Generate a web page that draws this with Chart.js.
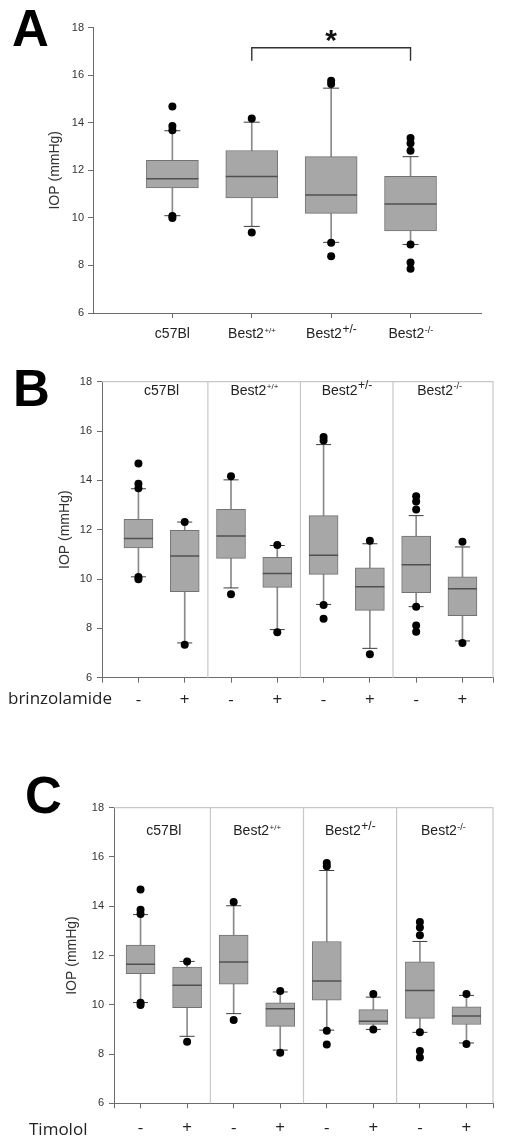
<!DOCTYPE html>
<html>
<head>
<meta charset="utf-8">
<script src="https://cdn.jsdelivr.net/npm/chart.js@4"></script>
<style>
  html, body { margin: 0; padding: 0; background: #fff; }
  body { width: 509px; height: 1140px; position: relative; overflow: hidden; }
  canvas { position: absolute; left: 0; }
  .panel { position: absolute; font: bold 51px "Liberation Sans", Arial, sans-serif; line-height: 1; color: #000; }
  .treat { position: absolute; font: 17px "Open Sans", sans-serif; line-height: 20px; color: #222; }
</style>
</head>
<body>
<canvas id="chartA" width="509" height="345" style="top:0"></canvas>
<canvas id="chartB" width="509" height="380" style="top:340px"></canvas>
<canvas id="chartC" width="509" height="380" style="top:760px"></canvas>
<div class="panel" style="left:12px;top:3px">A</div>
<div class="panel" style="left:13px;top:363px">B</div>
<div class="panel" style="left:25px;top:770px">C</div>
<div class="treat" style="left:8px;top:688px">brinzolamide</div>
<div class="treat" style="left:29px;top:1119px">Timolol</div>
<script>
// groups and labels
const groups = ["c57Bl", "Best2", "Best2", "Best2"];
const groupSup = ["", "+/+", "+/-", "-/-"];
const treatSigns = ["-", "+"];
const yTitle = "IOP (mmHg)";

// untreated eyes (same in all three panels)
const baseLow = [10.09, 9.64, 8.97, 8.88];
const baseQ1 = [11.26, 10.84, 10.19, 9.45];
const baseMedian = [11.64, 11.74, 10.96, 10.58];
const baseQ3 = [12.42, 12.83, 12.57, 11.74];
const baseHigh = [13.66, 14.02, 15.45, 12.57];
const baseOutliers = [[14.68, 13.86, 13.68, 10.08, 9.99], [14.17, 9.38], [15.76, 15.62, 8.95, 8.39], [13.36, 13.14, 12.82, 8.88, 8.12, 7.86]];

// brinzolamide
const brinzLow = [7.41, 7.95, 7.19, 7.49];
const brinzQ1 = [9.49, 9.66, 8.73, 8.51];
const brinzMedian = [10.93, 10.22, 9.69, 9.61];
const brinzQ3 = [11.97, 10.88, 10.45, 10.09];
const brinzHigh = [12.31, 11.36, 11.43, 11.3];
const brinzOutliers = [[12.31, 7.34], [11.38, 7.84], [11.55, 6.95], [11.51, 7.41]];

// timolol
const timoLow = [8.72, 8.16, 9.0, 8.45];
const timoQ1 = [9.88, 9.12, 9.2, 9.2];
const timoMedian = [10.79, 9.84, 9.33, 9.54];
const timoQ3 = [11.53, 10.08, 9.8, 9.92];
const timoHigh = [11.76, 10.52, 10.31, 10.38];
const timoOutliers = [[11.76, 8.5], [10.56, 8.05], [10.44, 9.0], [10.44, 8.41]];

// significance: Best2+/+ vs Best2-/-
const sigPair = [1, 3];
const sigLabel = "*";

const AXIS = "#6c6c6c";
const FONT = "'Liberation Sans', Arial, sans-serif";
Chart.defaults.font.family = FONT;

function boxDatasets(xs, s, st) {
  const pts = (ys) => xs.map((x, i) => ({ x, y: ys[i] }));
  return [
    {
      type: "scatter", order: 1,
      data: s.outliers.flatMap((o, i) => o.map((y) => ({ x: xs[i], y }))),
      pointRadius: st.dot, backgroundColor: "#000", borderColor: "#000", borderWidth: 0,
    },
    {
      type: "scatter", order: 2,
      data: pts(s.low).concat(pts(s.high)),
      pointStyle: "line", pointRadius: st.cap, borderColor: "#3c3c3c", borderWidth: 1,
    },
    {
      type: "scatter", order: 3,
      data: pts(s.median),
      pointStyle: "line", pointRadius: st.box / 2, borderColor: "#505050", borderWidth: 1.5,
    },
    {
      type: "bar", order: 4, grouped: false, barThickness: st.box,
      data: xs.map((x, i) => ({ x, y: [s.q1[i], s.q3[i]] })),
      backgroundColor: "#a7a7a7", borderColor: "#727272", borderWidth: 1, borderSkipped: false,
    },
    {
      type: "bar", order: 5, grouped: false, barThickness: 1,
      data: xs.map((x, i) => ({ x, y: [s.low[i], s.high[i]] })),
      backgroundColor: "#8a8a8a", borderWidth: 0,
    },
  ];
}

function makeScales(o) {
  return {
    x: {
      type: "linear", min: o.xMin, max: o.xMax, offset: false,
      afterBuildTicks: (sc) => { sc.ticks = o.xTicks.map((v) => ({ value: v })); },
      afterFit: (sc) => { sc.height = o.xHeight; },
      grid: { offset: false, drawOnChartArea: false, drawTicks: true, tickLength: 5, color: AXIS },
      border: { color: AXIS, width: 1 },
      ticks: {
        display: !!o.xLabel, autoSkip: false, maxRotation: 0, padding: o.xPad || 0,
        font: { family: "'Open Sans', sans-serif", size: 17 }, color: "#222",
        callback: (v) => (o.xLabel ? o.xLabel(v) : ""),
      },
    },
    y: {
      min: 6, max: 18,
      afterFit: (sc) => { sc.width = o.yWidth; },
      grid: { drawOnChartArea: false, drawTicks: true, tickLength: 5, color: AXIS },
      border: { color: AXIS, width: 1 },
      ticks: { stepSize: 2, font: { size: 11 }, color: "#333", padding: o.yPad },
      title: { display: true, text: yTitle, font: { size: 14 }, color: "#333", padding: 0 },
    },
  };
}

function groupLabelPlugin(xs, y, supSize) {
  return {
    id: "groupLabels",
    afterDraw(chart) {
      const { ctx, scales: { x } } = chart;
      ctx.save();
      ctx.fillStyle = "#222";
      ctx.textBaseline = "alphabetic";
      ctx.textAlign = "left";
      groups.forEach((g, i) => {
        ctx.font = "14px " + FONT;
        const w1 = ctx.measureText(g).width;
        ctx.font = supSize[i] + "px " + FONT;
        const w2 = groupSup[i] ? ctx.measureText(groupSup[i]).width : 0;
        const left = x.getPixelForValue(xs[i]) - (w1 + w2) / 2;
        ctx.font = "14px " + FONT;
        ctx.fillText(g, left, y);
        if (groupSup[i]) {
          ctx.font = supSize[i] + "px " + FONT;
          ctx.fillText(groupSup[i], left + w1 + 0.5, y - 5.5);
        }
      });
      ctx.restore();
    },
  };
}

function framePlugin(seps) {
  return {
    id: "frame",
    beforeDatasetsDraw(chart) {
      const { ctx, chartArea: a, scales: { x } } = chart;
      ctx.save();
      ctx.strokeStyle = "#c8c8c8";
      ctx.lineWidth = 1.2;
      ctx.beginPath();
      ctx.moveTo(a.left, a.top);
      ctx.lineTo(a.right, a.top);
      ctx.lineTo(a.right, a.bottom);
      seps.forEach((v) => {
        const px = x.getPixelForValue(v);
        ctx.moveTo(px, a.top);
        ctx.lineTo(px, a.bottom);
      });
      ctx.stroke();
      ctx.restore();
    },
  };
}

const sigPlugin = {
  id: "sig",
  afterDraw(chart) {
    const { ctx, scales: { x, y } } = chart;
    const x1 = x.getPixelForValue(sigPair[0] + 1);
    const x2 = x.getPixelForValue(sigPair[1] + 1);
    const yb = y.getPixelForValue(17.15);
    const yl = y.getPixelForValue(16.6);
    ctx.save();
    ctx.strokeStyle = "#333";
    ctx.lineWidth = 1.4;
    ctx.beginPath();
    ctx.moveTo(x1, yl);
    ctx.lineTo(x1, yb);
    ctx.lineTo(x2, yb);
    ctx.lineTo(x2, yl);
    ctx.stroke();
    ctx.fillStyle = "#111";
    ctx.font = "bold 30px " + FONT;
    ctx.textAlign = "center";
    ctx.textBaseline = "alphabetic";
    ctx.fillText(sigLabel, (x1 + x2) / 2, yb + 2);
    ctx.restore();
  },
};

const baseStats = { low: baseLow, q1: baseQ1, median: baseMedian, q3: baseQ3, high: baseHigh, outliers: baseOutliers };
const brinzStats = { low: brinzLow, q1: brinzQ1, median: brinzMedian, q3: brinzQ3, high: brinzHigh, outliers: brinzOutliers };
const timoStats = { low: timoLow, q1: timoQ1, median: timoMedian, q3: timoQ3, high: timoHigh, outliers: timoOutliers };

const common = { animation: false, responsive: false, events: [], plugins: { legend: { display: false }, tooltip: { enabled: false } } };

// Panel A
const xsA = groups.map((g, i) => i + 1);
new Chart(document.getElementById("chartA"), {
  type: "bar",
  data: { datasets: boxDatasets(xsA, baseStats, { box: 52, cap: 8, dot: 4 }) },
  options: {
    ...common,
    layout: { padding: { left: 46.6, top: 17.3, right: 0, bottom: 0 } },
    scales: makeScales({ xMin: 0, xMax: 4.894, xTicks: xsA, xHeight: 32, yWidth: 46.4, yPad: 4 }),
  },
  plugins: [groupLabelPlugin(xsA, 338, [0, 8, 12, 9]), sigPlugin],
});

// Panels B and C: untreated / treated pairs
function pairedChart(id, stats, o) {
  const xsNeg = groups.map((g, i) => 2 * i + 1);
  const xsPos = groups.map((g, i) => 2 * i + 2);
  const mids = groups.map((g, i) => 2 * i + 1.5);
  const seps = groups.slice(1).map((g, i) => 2 * i + 2.5);
  const ticks = [o.xMin, ...xsNeg.concat(xsPos).sort((a, b) => a - b), o.xMax];
  const st = { box: 29, cap: 7.5, dot: 4 };
  new Chart(document.getElementById(id), {
    type: "bar",
    data: { datasets: boxDatasets(xsNeg, baseStats, st).concat(boxDatasets(xsPos, stats, st)) },
    options: {
      ...common,
      layout: { padding: { left: o.left, top: o.top, right: o.right, bottom: 0 } },
      scales: makeScales({
        xMin: o.xMin, xMax: o.xMax, xTicks: ticks, xHeight: o.xHeight, xPad: o.xPad,
        xLabel: (v) => (Number.isInteger(v) && v >= 1 && v <= 8 ? treatSigns[(v - 1) % 2] : ""),
        yWidth: o.yWidth, yPad: 5,
      }),
    },
    plugins: [framePlugin(seps), groupLabelPlugin(mids, o.labelY, [0, 8, 12, 9])],
  });
}

pairedChart("chartB", brinzStats, { left: 56.6, yWidth: 45.4, top: 41.7, right: 10, xMin: 0.213, xMax: 8.66, xHeight: 42.3, xPad: 7, labelY: 54.5 });
pairedChart("chartC", timoStats, { left: 63.6, yWidth: 50.4, top: 47.7, right: 12, xMin: 0.43, xMax: 8.57, xHeight: 36.7, xPad: 10, labelY: 75 });
</script>
</body>
</html>
